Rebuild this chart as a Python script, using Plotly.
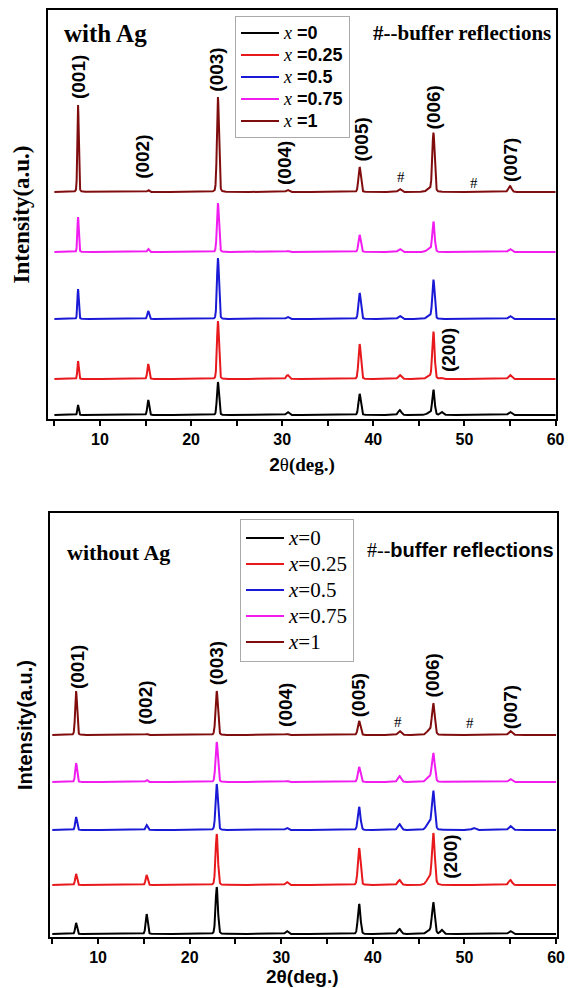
import numpy as np
import plotly.graph_objects as go

# ---------------- data ----------------
peak_positions = [7.6, 15.3, 22.95, 30.6, 38.5, 42.9, 46.1, 46.6, 47.5, 51.0, 55.0]
series_labels = ["x=0", "x=0.25", "x=0.5", "x=0.75", "x=1"]
series_colors = ["#000000", "#e8191c", "#1a1ad6", "#f01cf0", "#800d0d"]

# panel (a): with Ag  -- peak heights (a.u.) per series, vertical offsets
withAg_offsets = [4, 40, 100, 167, 227]
withAg_x0 = [10, 15, 33, 3, 21, 5, 2, 25, 3, 0, 3]
withAg_x025 = [18, 15, 58, 4, 35, 4, 3, 47, 1, 0, 4]
withAg_x05 = [30, 8, 61, 2, 26, 3, 3, 39, 0, 0, 3]
withAg_x075 = [35, 3, 49, 1, 17, 3, 3, 30, 0, 0, 3]
withAg_x1 = [87, 2, 95, 2, 25, 3, 3, 59, 0, 0, 6]
withAg_fwhm = [0.18, 0.24, 0.26, 0.35, 0.3, 0.4, 0.55, 0.3, 0.35, 0.45, 0.4]

# panel (b): without Ag
noAg_offsets = [3, 52, 107, 155, 202]
noAg_x0 = [11, 20, 47, 3, 30, 5, 3, 31, 4, 0, 3]
noAg_x025 = [11, 10, 51, 3, 37, 5, 6, 51, 0, 0, 5]
noAg_x05 = [13, 5, 46, 2, 23, 6, 7, 38, 0, 2, 4]
noAg_x075 = [19, 2, 40, 1, 15, 6, 5, 28, 0, 0, 3]
noAg_x1 = [44, 1, 44, 1, 14, 4, 4, 31, 0, 0, 4]
noAg_fwhm = [0.24, 0.26, 0.3, 0.35, 0.33, 0.42, 0.6, 0.36, 0.35, 0.45, 0.42]

peak_labels = ["(001)", "(002)", "(003)", "(004)", "(005)", "#", "(006)", "#", "(007)", "(200)"]
withAg_label_x = [7.6, 14.6, 22.7, 30.2, 38.6, 43.0, 46.6, 51.0, 55.0, 48.2]
withAg_label_y = [342, 262, 349, 256, 279, 242, 312, 236, 259, 69]
noAg_label_x = [7.7, 15.1, 22.9, 30.4, 38.4, 42.75, 46.5, 50.6, 55.0, 48.4]
noAg_label_y = [270, 234, 274, 232, 242, 215, 262, 214, 230, 80]

x_ticks = [10, 20, 30, 40, 50, 60]
x_minor_ticks = [5, 15, 25, 35, 45, 55]

SERIF = "Liberation Serif"
SANS = "Liberation Sans"

grid = np.linspace(5, 60, 4401)


def pattern(heights, fwhm, offset):
    y = np.full_like(grid, float(offset))
    for p, h, w in zip(peak_positions, heights, fwhm):
        s = w / 2.3548
        g = np.exp(-0.5 * ((grid - p) / s) ** 2)
        l = 1.0 / (1.0 + ((grid - p) / (w / 2)) ** 2)
        y += h * (0.85 * g + 0.15 * l)
    return y


fig = go.Figure()

top_sets = [withAg_x0, withAg_x025, withAg_x05, withAg_x075, withAg_x1]
bot_sets = [noAg_x0, noAg_x025, noAg_x05, noAg_x075, noAg_x1]

top_names = [
    f"<span style='font-size:18px'><span style='font-family:{SERIF};font-style:italic'>x</span>"
    f"<b> ={lab.split('=')[1]}</b></span>"
    for lab in series_labels
]
bot_names = [
    f"<span style='font-size:21px'><i>x</i>={lab.split('=')[1]}</span>" for lab in series_labels
]

for i in range(5):
    fig.add_trace(go.Scatter(
        x=grid, y=pattern(top_sets[i], withAg_fwhm, withAg_offsets[i]),
        mode="lines", line=dict(color=series_colors[i], width=2),
        name=top_names[i], xaxis="x", yaxis="y", legend="legend"))
for i in range(5):
    fig.add_trace(go.Scatter(
        x=grid, y=pattern(bot_sets[i], noAg_fwhm, noAg_offsets[i]),
        mode="lines", line=dict(color=series_colors[i], width=2),
        name=bot_names[i], xaxis="x2", yaxis="y2", legend="legend2"))

W, H = 573, 988


def px(v):
    return v / W


def py(v):
    return 1 - v / H


axis_common = dict(
    showline=True, linewidth=2, linecolor="black", mirror=True,
    showgrid=False, zeroline=False, automargin=False,
)
xtick_common = dict(
    tickvals=x_ticks, ticks="outside", ticklen=5, tickwidth=2, tickcolor="black",
    minor=dict(tickvals=x_minor_ticks, ticks="outside", ticklen=5,
               tickwidth=2, tickcolor="black"),
    tickfont=dict(family=SANS, size=16, color="black", weight="bold"),
)

fig.update_layout(
    width=W, height=H,
    margin=dict(l=0, r=0, t=0, b=0, pad=0, autoexpand=False),
    paper_bgcolor="white", plot_bgcolor="white",
    xaxis=dict(
        **axis_common, **xtick_common, domain=[px(48), px(556)], range=[4.3, 60.05],
        anchor="y",
        title=dict(text=f"<span style='font-family:{SANS}'><b>2</b></span>θ<b>(deg.)</b>",
                   font=dict(family=SERIF, size=19, color="black"), standoff=10),
    ),
    yaxis=dict(
        **axis_common, domain=[py(419), py(10)], range=[0, 409], anchor="x",
        showticklabels=False, ticks="",
        title=dict(text="<b>Intensity(a.u.)</b>",
                   font=dict(family=SERIF, size=23, color="black"), standoff=10),
    ),
    xaxis2=dict(
        **axis_common, **xtick_common, domain=[px(50), px(557)], range=[4.75, 60.1],
        anchor="y2",
    ),
    yaxis2=dict(
        **axis_common, domain=[py(937), py(513)], range=[0, 424], anchor="x2",
        showticklabels=False, ticks="",
        title=dict(text="<b>Intensity(a.u.)</b>",
                   font=dict(family=SANS, size=20, color="black"), standoff=10),
    ),
    legend=dict(
        x=px(235), y=py(16), xanchor="left", yanchor="top",
        bgcolor="white", bordercolor="#aaaaaa", borderwidth=1,
        font=dict(family=SANS, size=14.6, color="black"),
        tracegroupgap=0, itemwidth=38,
    ),
    legend2=dict(
        x=px(240), y=py(519), xanchor="left", yanchor="top",
        bgcolor="white", bordercolor="#aaaaaa", borderwidth=1,
        font=dict(family=SERIF, size=17.7, color="black"),
        tracegroupgap=0, itemwidth=38,
    ),
    showlegend=True,
)

annotations = []
for lab, x, y in zip(peak_labels, withAg_label_x, withAg_label_y):
    if lab == "#":
        annotations.append(dict(x=x, y=y, xref="x", yref="y", text="#", showarrow=False,
                                font=dict(family=SERIF, size=15, color="black")))
    else:
        annotations.append(dict(x=x, y=y, xref="x", yref="y", text=f"<b>{lab}</b>",
                                textangle=-90, showarrow=False,
                                font=dict(family=SANS, size=19, color="black")))
for lab, x, y in zip(peak_labels, noAg_label_x, noAg_label_y):
    if lab == "#":
        annotations.append(dict(x=x, y=y, xref="x2", yref="y2", text="#", showarrow=False,
                                font=dict(family=SERIF, size=15, color="black")))
    else:
        annotations.append(dict(x=x, y=y, xref="x2", yref="y2", text=f"<b>{lab}</b>",
                                textangle=-90, showarrow=False,
                                font=dict(family=SANS, size=19, color="black")))

annotations += [
    dict(x=px(62), y=py(33), xref="paper", yref="paper", xanchor="left", yanchor="middle",
         text="<b>with Ag</b>", showarrow=False,
         font=dict(family=SERIF, size=25, color="black")),
    dict(x=px(553), y=py(33), xref="paper", yref="paper", xanchor="right", yanchor="middle",
         text="<b>#--buffer reflections</b>", showarrow=False,
         font=dict(family=SERIF, size=21, color="black")),
    dict(x=px(65), y=py(552), xref="paper", yref="paper", xanchor="left", yanchor="middle",
         text="<b>without Ag</b>", showarrow=False,
         font=dict(family=SERIF, size=22, color="black")),
    dict(x=px(556), y=py(550), xref="paper", yref="paper", xanchor="right", yanchor="middle",
         text=f"<span style='font-family:{SERIF}'>#--</span><b>buffer reflections</b>",
         showarrow=False, font=dict(family=SANS, size=20, color="black")),
    # x-axis title of the lower panel
    dict(x=px(303), y=py(976), xref="paper", yref="paper", xanchor="center", yanchor="middle",
         text="<b>2θ(deg.)</b>", showarrow=False,
         font=dict(family=SANS, size=19, color="black")),
]
fig.update_layout(annotations=annotations)

fig.write_html(
    "out.html",
    config={"displayModeBar": False},
    post_script="document.body.style.margin='0';document.body.style.overflow='hidden';",
)
